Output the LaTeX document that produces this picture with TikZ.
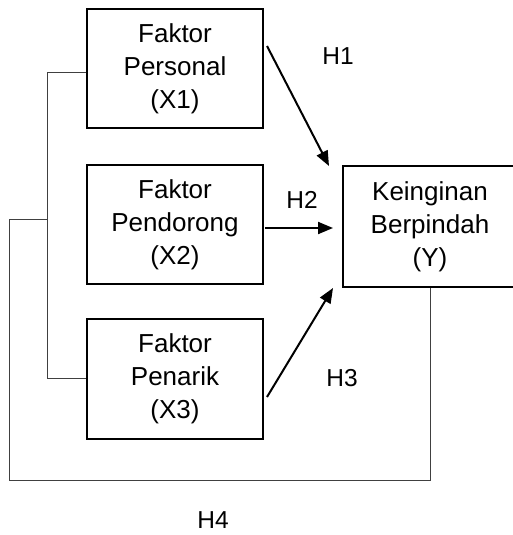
\documentclass[tikz,border=0pt]{standalone}
\usepackage{fontspec}
\setmainfont{Liberation Sans}
\usetikzlibrary{arrows.meta}
\begin{document}
\begin{tikzpicture}[x=1pt,y=-1pt,
  box/.style={draw=black,line width=2pt,inner sep=0pt,align=center,
    font=\fontsize{26}{33}\selectfont},
  link/.style={draw=black!75,line width=1pt},
  arr/.style={draw=black,line width=2pt,-{Triangle[length=15pt,width=12pt]}},
  lab/.style={font=\fontsize{24.5}{28}\selectfont,inner sep=0pt}]
\useasboundingbox (0,0) rectangle (513,535);
\clip (0,0) rectangle (513,535);
\fill[white] (0,0) rectangle (513,535);
\node[box,minimum width=176pt,minimum height=119pt] (x1) at (175,68.5) {Faktor\\Personal\\(X1)};
\node[box,minimum width=176pt,minimum height=119pt] (x2) at (175,224.5) {Faktor\\Pendorong\\(X2)};
\node[box,minimum width=176pt,minimum height=120pt] (x3) at (175,379) {Faktor\\Penarik\\(X3)};
\node[box,minimum width=174pt,minimum height=121pt] (y) at (430,226.5) {Keinginan\\Berpindah\\(Y)};
% bracket
\coordinate (b1) at (47,72);
\coordinate (b3) at (47,378);
\coordinate (b2) at (47,219);
\coordinate (o1) at (9,219);
\coordinate (o2) at (9,480);
\coordinate (o3) at (430,480);
\draw[link] ([yshift=-3.5pt]x1.west) -- (b1) -- (b3) -- ([yshift=1pt]x3.west);
\draw[link] (b2) -- (o1) -- (o2) -- (o3) -- (y.south);
% arrows
\coordinate (a1s) at (267,46);
\coordinate (a1e) at (329,166);
\coordinate (a2s) at (265,228);
\coordinate (a2e) at (333,228);
\coordinate (a3s) at (267,397);
\coordinate (a3e) at (333,288);
\draw[arr] (a1s) -- (a1e);
\draw[arr] (a2s) -- (a2e);
\draw[arr] (a3s) -- (a3e);
% labels
\node[lab] (h1) at (338,56) {H1};
\node[lab] (h2) at (302,200) {H2};
\node[lab] (h3) at (342,378) {H3};
\node[lab] (h4) at (213,520) {H4};
\end{tikzpicture}
\end{document}
